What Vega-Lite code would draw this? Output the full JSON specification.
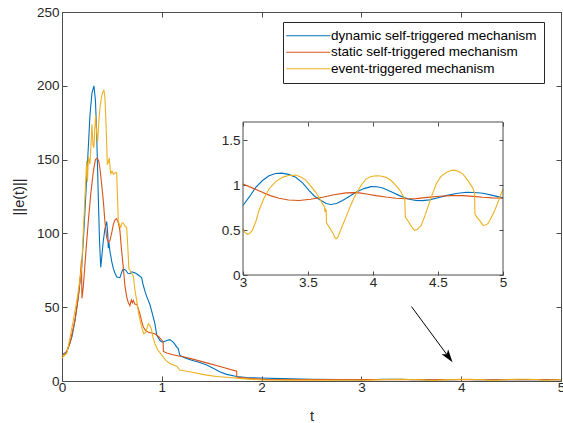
{
  "$schema": "https://vega.github.io/schema/vega-lite/v6.json",
  "width": 499,
  "height": 369,
  "autosize": {"type": "none"},
  "padding": {"left": 62, "top": 12, "right": 2, "bottom": 42},
  "config": {
    "font": "Liberation Sans",
    "view": {"stroke": "#4d4d4d", "strokeWidth": 1},
    "axis": {"grid": false, "labelFlush": false, "labelFont": "Liberation Sans", "labelFontSize": 13.5, "labelColor": "#262626", "tickColor": "#4d4d4d", "domainColor": "#4d4d4d", "titleFont": "Liberation Sans", "titleFontWeight": "normal", "titleColor": "#262626", "titleFontSize": 14.5}
  },
  "datasets": {
    "lines": [
      {"series": "dynamic self-triggered mechanism", "t": 0, "v": 17.5},
      {"series": "dynamic self-triggered mechanism", "t": 0.05, "v": 20},
      {"series": "dynamic self-triggered mechanism", "t": 0.1, "v": 30},
      {"series": "dynamic self-triggered mechanism", "t": 0.13, "v": 41},
      {"series": "dynamic self-triggered mechanism", "t": 0.165, "v": 58},
      {"series": "dynamic self-triggered mechanism", "t": 0.197, "v": 77},
      {"series": "dynamic self-triggered mechanism", "t": 0.222, "v": 105},
      {"series": "dynamic self-triggered mechanism", "t": 0.247, "v": 137},
      {"series": "dynamic self-triggered mechanism", "t": 0.265, "v": 160},
      {"series": "dynamic self-triggered mechanism", "t": 0.28, "v": 180},
      {"series": "dynamic self-triggered mechanism", "t": 0.3, "v": 195},
      {"series": "dynamic self-triggered mechanism", "t": 0.32, "v": 200},
      {"series": "dynamic self-triggered mechanism", "t": 0.335, "v": 190},
      {"series": "dynamic self-triggered mechanism", "t": 0.347, "v": 169},
      {"series": "dynamic self-triggered mechanism", "t": 0.356, "v": 145},
      {"series": "dynamic self-triggered mechanism", "t": 0.364, "v": 124},
      {"series": "dynamic self-triggered mechanism", "t": 0.376, "v": 95},
      {"series": "dynamic self-triggered mechanism", "t": 0.388, "v": 77},
      {"series": "dynamic self-triggered mechanism", "t": 0.4, "v": 85},
      {"series": "dynamic self-triggered mechanism", "t": 0.414, "v": 95},
      {"series": "dynamic self-triggered mechanism", "t": 0.43, "v": 103},
      {"series": "dynamic self-triggered mechanism", "t": 0.448, "v": 108},
      {"series": "dynamic self-triggered mechanism", "t": 0.458, "v": 100},
      {"series": "dynamic self-triggered mechanism", "t": 0.464, "v": 90},
      {"series": "dynamic self-triggered mechanism", "t": 0.47, "v": 94},
      {"series": "dynamic self-triggered mechanism", "t": 0.48, "v": 88},
      {"series": "dynamic self-triggered mechanism", "t": 0.498, "v": 81},
      {"series": "dynamic self-triggered mechanism", "t": 0.515, "v": 76},
      {"series": "dynamic self-triggered mechanism", "t": 0.531, "v": 73},
      {"series": "dynamic self-triggered mechanism", "t": 0.55, "v": 70.5},
      {"series": "dynamic self-triggered mechanism", "t": 0.58, "v": 70},
      {"series": "dynamic self-triggered mechanism", "t": 0.6, "v": 74},
      {"series": "dynamic self-triggered mechanism", "t": 0.614, "v": 76},
      {"series": "dynamic self-triggered mechanism", "t": 0.64, "v": 75},
      {"series": "dynamic self-triggered mechanism", "t": 0.66, "v": 73},
      {"series": "dynamic self-triggered mechanism", "t": 0.681, "v": 72.7},
      {"series": "dynamic self-triggered mechanism", "t": 0.7, "v": 74},
      {"series": "dynamic self-triggered mechanism", "t": 0.715, "v": 73.6},
      {"series": "dynamic self-triggered mechanism", "t": 0.74, "v": 73},
      {"series": "dynamic self-triggered mechanism", "t": 0.76, "v": 72},
      {"series": "dynamic self-triggered mechanism", "t": 0.798, "v": 70},
      {"series": "dynamic self-triggered mechanism", "t": 0.81, "v": 66},
      {"series": "dynamic self-triggered mechanism", "t": 0.83, "v": 61},
      {"series": "dynamic self-triggered mechanism", "t": 0.85, "v": 57},
      {"series": "dynamic self-triggered mechanism", "t": 0.88, "v": 52},
      {"series": "dynamic self-triggered mechanism", "t": 0.9, "v": 47},
      {"series": "dynamic self-triggered mechanism", "t": 0.93, "v": 39},
      {"series": "dynamic self-triggered mechanism", "t": 0.95, "v": 31},
      {"series": "dynamic self-triggered mechanism", "t": 0.98, "v": 27.6},
      {"series": "dynamic self-triggered mechanism", "t": 1.0, "v": 26.5},
      {"series": "dynamic self-triggered mechanism", "t": 1.015, "v": 26.5},
      {"series": "dynamic self-triggered mechanism", "t": 1.05, "v": 27.5},
      {"series": "dynamic self-triggered mechanism", "t": 1.08, "v": 28},
      {"series": "dynamic self-triggered mechanism", "t": 1.12, "v": 26},
      {"series": "dynamic self-triggered mechanism", "t": 1.15, "v": 23},
      {"series": "dynamic self-triggered mechanism", "t": 1.165, "v": 22},
      {"series": "dynamic self-triggered mechanism", "t": 1.18, "v": 17.5},
      {"series": "dynamic self-triggered mechanism", "t": 1.22, "v": 16},
      {"series": "dynamic self-triggered mechanism", "t": 1.3, "v": 14},
      {"series": "dynamic self-triggered mechanism", "t": 1.38, "v": 12.5},
      {"series": "dynamic self-triggered mechanism", "t": 1.45, "v": 10.8},
      {"series": "dynamic self-triggered mechanism", "t": 1.52, "v": 8.5},
      {"series": "dynamic self-triggered mechanism", "t": 1.58, "v": 6.3},
      {"series": "dynamic self-triggered mechanism", "t": 1.65, "v": 4.5},
      {"series": "dynamic self-triggered mechanism", "t": 1.75, "v": 3},
      {"series": "dynamic self-triggered mechanism", "t": 1.85, "v": 2.4},
      {"series": "dynamic self-triggered mechanism", "t": 1.98, "v": 2},
      {"series": "dynamic self-triggered mechanism", "t": 2.2, "v": 1.6},
      {"series": "dynamic self-triggered mechanism", "t": 2.5, "v": 1.2},
      {"series": "dynamic self-triggered mechanism", "t": 2.8, "v": 0.95},
      {"series": "dynamic self-triggered mechanism", "t": 3.0, "v": 0.772},
      {"series": "dynamic self-triggered mechanism", "t": 3.05, "v": 0.87},
      {"series": "dynamic self-triggered mechanism", "t": 3.098, "v": 0.974},
      {"series": "dynamic self-triggered mechanism", "t": 3.15, "v": 1.05},
      {"series": "dynamic self-triggered mechanism", "t": 3.2, "v": 1.103},
      {"series": "dynamic self-triggered mechanism", "t": 3.25, "v": 1.128},
      {"series": "dynamic self-triggered mechanism", "t": 3.298, "v": 1.132},
      {"series": "dynamic self-triggered mechanism", "t": 3.35, "v": 1.118},
      {"series": "dynamic self-triggered mechanism", "t": 3.406, "v": 1.085},
      {"series": "dynamic self-triggered mechanism", "t": 3.46, "v": 1.02},
      {"series": "dynamic self-triggered mechanism", "t": 3.509, "v": 0.9375},
      {"series": "dynamic self-triggered mechanism", "t": 3.55, "v": 0.875},
      {"series": "dynamic self-triggered mechanism", "t": 3.6, "v": 0.827},
      {"series": "dynamic self-triggered mechanism", "t": 3.64, "v": 0.795},
      {"series": "dynamic self-triggered mechanism", "t": 3.676, "v": 0.783},
      {"series": "dynamic self-triggered mechanism", "t": 3.72, "v": 0.795},
      {"series": "dynamic self-triggered mechanism", "t": 3.766, "v": 0.827},
      {"series": "dynamic self-triggered mechanism", "t": 3.82, "v": 0.875},
      {"series": "dynamic self-triggered mechanism", "t": 3.869, "v": 0.919},
      {"series": "dynamic self-triggered mechanism", "t": 3.93, "v": 0.96},
      {"series": "dynamic self-triggered mechanism", "t": 3.985, "v": 0.982},
      {"series": "dynamic self-triggered mechanism", "t": 4.03, "v": 0.98},
      {"series": "dynamic self-triggered mechanism", "t": 4.075, "v": 0.967},
      {"series": "dynamic self-triggered mechanism", "t": 4.14, "v": 0.925},
      {"series": "dynamic self-triggered mechanism", "t": 4.203, "v": 0.882},
      {"series": "dynamic self-triggered mechanism", "t": 4.27, "v": 0.845},
      {"series": "dynamic self-triggered mechanism", "t": 4.33, "v": 0.827},
      {"series": "dynamic self-triggered mechanism", "t": 4.38, "v": 0.826},
      {"series": "dynamic self-triggered mechanism", "t": 4.434, "v": 0.835},
      {"series": "dynamic self-triggered mechanism", "t": 4.5, "v": 0.858},
      {"series": "dynamic self-triggered mechanism", "t": 4.563, "v": 0.882},
      {"series": "dynamic self-triggered mechanism", "t": 4.64, "v": 0.905},
      {"series": "dynamic self-triggered mechanism", "t": 4.717, "v": 0.919},
      {"series": "dynamic self-triggered mechanism", "t": 4.78, "v": 0.917},
      {"series": "dynamic self-triggered mechanism", "t": 4.846, "v": 0.908},
      {"series": "dynamic self-triggered mechanism", "t": 4.92, "v": 0.885},
      {"series": "dynamic self-triggered mechanism", "t": 5.0, "v": 0.857},

      {"series": "static self-triggered mechanism", "t": 0, "v": 17},
      {"series": "static self-triggered mechanism", "t": 0.04, "v": 19},
      {"series": "static self-triggered mechanism", "t": 0.08, "v": 25.6},
      {"series": "static self-triggered mechanism", "t": 0.13, "v": 41},
      {"series": "static self-triggered mechanism", "t": 0.16, "v": 55},
      {"series": "static self-triggered mechanism", "t": 0.18, "v": 68},
      {"series": "static self-triggered mechanism", "t": 0.195, "v": 82},
      {"series": "static self-triggered mechanism", "t": 0.2, "v": 56},
      {"series": "static self-triggered mechanism", "t": 0.215, "v": 65},
      {"series": "static self-triggered mechanism", "t": 0.24, "v": 88},
      {"series": "static self-triggered mechanism", "t": 0.264, "v": 108.5},
      {"series": "static self-triggered mechanism", "t": 0.29, "v": 128},
      {"series": "static self-triggered mechanism", "t": 0.314, "v": 142},
      {"series": "static self-triggered mechanism", "t": 0.335, "v": 150},
      {"series": "static self-triggered mechanism", "t": 0.354, "v": 151},
      {"series": "static self-triggered mechanism", "t": 0.368, "v": 149},
      {"series": "static self-triggered mechanism", "t": 0.38, "v": 144},
      {"series": "static self-triggered mechanism", "t": 0.395, "v": 135},
      {"series": "static self-triggered mechanism", "t": 0.414, "v": 122},
      {"series": "static self-triggered mechanism", "t": 0.43, "v": 108},
      {"series": "static self-triggered mechanism", "t": 0.448, "v": 97},
      {"series": "static self-triggered mechanism", "t": 0.465, "v": 94},
      {"series": "static self-triggered mechanism", "t": 0.48, "v": 95},
      {"series": "static self-triggered mechanism", "t": 0.5, "v": 101},
      {"series": "static self-triggered mechanism", "t": 0.514, "v": 106},
      {"series": "static self-triggered mechanism", "t": 0.53, "v": 109},
      {"series": "static self-triggered mechanism", "t": 0.548, "v": 110},
      {"series": "static self-triggered mechanism", "t": 0.565, "v": 107},
      {"series": "static self-triggered mechanism", "t": 0.58, "v": 102},
      {"series": "static self-triggered mechanism", "t": 0.595, "v": 90},
      {"series": "static self-triggered mechanism", "t": 0.614, "v": 77},
      {"series": "static self-triggered mechanism", "t": 0.63, "v": 65},
      {"series": "static self-triggered mechanism", "t": 0.648, "v": 57},
      {"series": "static self-triggered mechanism", "t": 0.665, "v": 53},
      {"series": "static self-triggered mechanism", "t": 0.68, "v": 51},
      {"series": "static self-triggered mechanism", "t": 0.695, "v": 55},
      {"series": "static self-triggered mechanism", "t": 0.705, "v": 53},
      {"series": "static self-triggered mechanism", "t": 0.715, "v": 54.6},
      {"series": "static self-triggered mechanism", "t": 0.73, "v": 52},
      {"series": "static self-triggered mechanism", "t": 0.75, "v": 52},
      {"series": "static self-triggered mechanism", "t": 0.765, "v": 49},
      {"series": "static self-triggered mechanism", "t": 0.78, "v": 45.6},
      {"series": "static self-triggered mechanism", "t": 0.8, "v": 40},
      {"series": "static self-triggered mechanism", "t": 0.815, "v": 36.6},
      {"series": "static self-triggered mechanism", "t": 0.84, "v": 34},
      {"series": "static self-triggered mechanism", "t": 0.865, "v": 33},
      {"series": "static self-triggered mechanism", "t": 0.9, "v": 32.5},
      {"series": "static self-triggered mechanism", "t": 0.93, "v": 32},
      {"series": "static self-triggered mechanism", "t": 0.97, "v": 30},
      {"series": "static self-triggered mechanism", "t": 1.0, "v": 27.6},
      {"series": "static self-triggered mechanism", "t": 1.013, "v": 26.5},
      {"series": "static self-triggered mechanism", "t": 1.016, "v": 20},
      {"series": "static self-triggered mechanism", "t": 1.05, "v": 19},
      {"series": "static self-triggered mechanism", "t": 1.1, "v": 18},
      {"series": "static self-triggered mechanism", "t": 1.18, "v": 16.8},
      {"series": "static self-triggered mechanism", "t": 1.215, "v": 16.4},
      {"series": "static self-triggered mechanism", "t": 1.3, "v": 15},
      {"series": "static self-triggered mechanism", "t": 1.45, "v": 12.3},
      {"series": "static self-triggered mechanism", "t": 1.6, "v": 9.5},
      {"series": "static self-triggered mechanism", "t": 1.75, "v": 6.7},
      {"series": "static self-triggered mechanism", "t": 1.752, "v": 2.5},
      {"series": "static self-triggered mechanism", "t": 1.9, "v": 1.6},
      {"series": "static self-triggered mechanism", "t": 2.05, "v": 1.1},
      {"series": "static self-triggered mechanism", "t": 2.3, "v": 0.95},
      {"series": "static self-triggered mechanism", "t": 2.6, "v": 0.9},
      {"series": "static self-triggered mechanism", "t": 2.85, "v": 0.98},
      {"series": "static self-triggered mechanism", "t": 3.0, "v": 1.011},
      {"series": "static self-triggered mechanism", "t": 3.07, "v": 0.968},
      {"series": "static self-triggered mechanism", "t": 3.149, "v": 0.919},
      {"series": "static self-triggered mechanism", "t": 3.21, "v": 0.882},
      {"series": "static self-triggered mechanism", "t": 3.278, "v": 0.853},
      {"series": "static self-triggered mechanism", "t": 3.35, "v": 0.833},
      {"series": "static self-triggered mechanism", "t": 3.432, "v": 0.827},
      {"series": "static self-triggered mechanism", "t": 3.52, "v": 0.842},
      {"series": "static self-triggered mechanism", "t": 3.612, "v": 0.864},
      {"series": "static self-triggered mechanism", "t": 3.7, "v": 0.892},
      {"series": "static self-triggered mechanism", "t": 3.792, "v": 0.912},
      {"series": "static self-triggered mechanism", "t": 3.85, "v": 0.915},
      {"series": "static self-triggered mechanism", "t": 3.895, "v": 0.912},
      {"series": "static self-triggered mechanism", "t": 3.96, "v": 0.898},
      {"series": "static self-triggered mechanism", "t": 4.023, "v": 0.882},
      {"series": "static self-triggered mechanism", "t": 4.1, "v": 0.866},
      {"series": "static self-triggered mechanism", "t": 4.177, "v": 0.853},
      {"series": "static self-triggered mechanism", "t": 4.25, "v": 0.848},
      {"series": "static self-triggered mechanism", "t": 4.33, "v": 0.849},
      {"series": "static self-triggered mechanism", "t": 4.42, "v": 0.862},
      {"series": "static self-triggered mechanism", "t": 4.512, "v": 0.875},
      {"series": "static self-triggered mechanism", "t": 4.6, "v": 0.882},
      {"series": "static self-triggered mechanism", "t": 4.692, "v": 0.882},
      {"series": "static self-triggered mechanism", "t": 4.77, "v": 0.874},
      {"series": "static self-triggered mechanism", "t": 4.846, "v": 0.864},
      {"series": "static self-triggered mechanism", "t": 4.92, "v": 0.857},
      {"series": "static self-triggered mechanism", "t": 5.0, "v": 0.853},

      {"series": "event-triggered mechanism", "t": 0, "v": 15.5},
      {"series": "event-triggered mechanism", "t": 0.05, "v": 19},
      {"series": "event-triggered mechanism", "t": 0.113, "v": 41},
      {"series": "event-triggered mechanism", "t": 0.15, "v": 55},
      {"series": "event-triggered mechanism", "t": 0.197, "v": 77},
      {"series": "event-triggered mechanism", "t": 0.22, "v": 110},
      {"series": "event-triggered mechanism", "t": 0.247, "v": 149},
      {"series": "event-triggered mechanism", "t": 0.255, "v": 135},
      {"series": "event-triggered mechanism", "t": 0.265, "v": 152},
      {"series": "event-triggered mechanism", "t": 0.28, "v": 147},
      {"series": "event-triggered mechanism", "t": 0.29, "v": 160},
      {"series": "event-triggered mechanism", "t": 0.3, "v": 174},
      {"series": "event-triggered mechanism", "t": 0.31, "v": 160},
      {"series": "event-triggered mechanism", "t": 0.32, "v": 158},
      {"series": "event-triggered mechanism", "t": 0.328, "v": 170},
      {"series": "event-triggered mechanism", "t": 0.337, "v": 180},
      {"series": "event-triggered mechanism", "t": 0.345, "v": 170},
      {"series": "event-triggered mechanism", "t": 0.357, "v": 162},
      {"series": "event-triggered mechanism", "t": 0.368, "v": 175},
      {"series": "event-triggered mechanism", "t": 0.38, "v": 185},
      {"series": "event-triggered mechanism", "t": 0.395, "v": 192},
      {"series": "event-triggered mechanism", "t": 0.41, "v": 196},
      {"series": "event-triggered mechanism", "t": 0.42, "v": 197},
      {"series": "event-triggered mechanism", "t": 0.43, "v": 192},
      {"series": "event-triggered mechanism", "t": 0.44, "v": 176},
      {"series": "event-triggered mechanism", "t": 0.448, "v": 160},
      {"series": "event-triggered mechanism", "t": 0.454, "v": 147},
      {"series": "event-triggered mechanism", "t": 0.464, "v": 148},
      {"series": "event-triggered mechanism", "t": 0.474, "v": 151},
      {"series": "event-triggered mechanism", "t": 0.481, "v": 145},
      {"series": "event-triggered mechanism", "t": 0.488, "v": 140},
      {"series": "event-triggered mechanism", "t": 0.496, "v": 142},
      {"series": "event-triggered mechanism", "t": 0.504, "v": 142},
      {"series": "event-triggered mechanism", "t": 0.514, "v": 140},
      {"series": "event-triggered mechanism", "t": 0.53, "v": 141},
      {"series": "event-triggered mechanism", "t": 0.548, "v": 141},
      {"series": "event-triggered mechanism", "t": 0.556, "v": 125},
      {"series": "event-triggered mechanism", "t": 0.564, "v": 108.5},
      {"series": "event-triggered mechanism", "t": 0.575, "v": 106},
      {"series": "event-triggered mechanism", "t": 0.588, "v": 104},
      {"series": "event-triggered mechanism", "t": 0.6, "v": 107},
      {"series": "event-triggered mechanism", "t": 0.614, "v": 107},
      {"series": "event-triggered mechanism", "t": 0.63, "v": 105},
      {"series": "event-triggered mechanism", "t": 0.648, "v": 104},
      {"series": "event-triggered mechanism", "t": 0.66, "v": 90},
      {"series": "event-triggered mechanism", "t": 0.67, "v": 76},
      {"series": "event-triggered mechanism", "t": 0.69, "v": 74},
      {"series": "event-triggered mechanism", "t": 0.715, "v": 71},
      {"series": "event-triggered mechanism", "t": 0.73, "v": 62},
      {"series": "event-triggered mechanism", "t": 0.748, "v": 54.6},
      {"series": "event-triggered mechanism", "t": 0.77, "v": 45},
      {"series": "event-triggered mechanism", "t": 0.8, "v": 36},
      {"series": "event-triggered mechanism", "t": 0.82, "v": 32},
      {"series": "event-triggered mechanism", "t": 0.84, "v": 33},
      {"series": "event-triggered mechanism", "t": 0.865, "v": 38.8},
      {"series": "event-triggered mechanism", "t": 0.88, "v": 37.5},
      {"series": "event-triggered mechanism", "t": 0.895, "v": 35.5},
      {"series": "event-triggered mechanism", "t": 0.91, "v": 30},
      {"series": "event-triggered mechanism", "t": 0.93, "v": 25.4},
      {"series": "event-triggered mechanism", "t": 0.96, "v": 21},
      {"series": "event-triggered mechanism", "t": 1.0, "v": 17.5},
      {"series": "event-triggered mechanism", "t": 1.04, "v": 14},
      {"series": "event-triggered mechanism", "t": 1.08, "v": 11.9},
      {"series": "event-triggered mechanism", "t": 1.15, "v": 10},
      {"series": "event-triggered mechanism", "t": 1.18, "v": 7.4},
      {"series": "event-triggered mechanism", "t": 1.28, "v": 6.3},
      {"series": "event-triggered mechanism", "t": 1.33, "v": 5.6},
      {"series": "event-triggered mechanism", "t": 1.45, "v": 4},
      {"series": "event-triggered mechanism", "t": 1.55, "v": 3},
      {"series": "event-triggered mechanism", "t": 1.65, "v": 2.5},
      {"series": "event-triggered mechanism", "t": 1.8, "v": 1.6},
      {"series": "event-triggered mechanism", "t": 2.0, "v": 0.7},
      {"series": "event-triggered mechanism", "t": 2.3, "v": 0.6},
      {"series": "event-triggered mechanism", "t": 2.6, "v": 0.55},
      {"series": "event-triggered mechanism", "t": 2.85, "v": 0.55},
      {"series": "event-triggered mechanism", "t": 3.0, "v": 0.515},
      {"series": "event-triggered mechanism", "t": 3.015, "v": 0.47},
      {"series": "event-triggered mechanism", "t": 3.033, "v": 0.452},
      {"series": "event-triggered mechanism", "t": 3.05, "v": 0.46},
      {"series": "event-triggered mechanism", "t": 3.072, "v": 0.496},
      {"series": "event-triggered mechanism", "t": 3.1, "v": 0.6},
      {"series": "event-triggered mechanism", "t": 3.123, "v": 0.717},
      {"series": "event-triggered mechanism", "t": 3.16, "v": 0.85},
      {"series": "event-triggered mechanism", "t": 3.2, "v": 0.956},
      {"series": "event-triggered mechanism", "t": 3.25, "v": 1.035},
      {"series": "event-triggered mechanism", "t": 3.303, "v": 1.085},
      {"series": "event-triggered mechanism", "t": 3.35, "v": 1.105},
      {"series": "event-triggered mechanism", "t": 3.406, "v": 1.11},
      {"series": "event-triggered mechanism", "t": 3.45, "v": 1.085},
      {"series": "event-triggered mechanism", "t": 3.483, "v": 1.055},
      {"series": "event-triggered mechanism", "t": 3.52, "v": 0.99},
      {"series": "event-triggered mechanism", "t": 3.56, "v": 0.919},
      {"series": "event-triggered mechanism", "t": 3.59, "v": 0.85},
      {"series": "event-triggered mechanism", "t": 3.612, "v": 0.79},
      {"series": "event-triggered mechanism", "t": 3.627, "v": 0.755},
      {"series": "event-triggered mechanism", "t": 3.63, "v": 0.7},
      {"series": "event-triggered mechanism", "t": 3.635, "v": 0.73},
      {"series": "event-triggered mechanism", "t": 3.64, "v": 0.72},
      {"series": "event-triggered mechanism", "t": 3.642, "v": 0.58},
      {"series": "event-triggered mechanism", "t": 3.66, "v": 0.54},
      {"series": "event-triggered mechanism", "t": 3.69, "v": 0.47},
      {"series": "event-triggered mechanism", "t": 3.7, "v": 0.44},
      {"series": "event-triggered mechanism", "t": 3.705, "v": 0.42},
      {"series": "event-triggered mechanism", "t": 3.715, "v": 0.404},
      {"series": "event-triggered mechanism", "t": 3.73, "v": 0.42},
      {"series": "event-triggered mechanism", "t": 3.76, "v": 0.53},
      {"series": "event-triggered mechanism", "t": 3.792, "v": 0.643},
      {"series": "event-triggered mechanism", "t": 3.83, "v": 0.78},
      {"series": "event-triggered mechanism", "t": 3.869, "v": 0.9},
      {"series": "event-triggered mechanism", "t": 3.91, "v": 1.0},
      {"series": "event-triggered mechanism", "t": 3.946, "v": 1.066},
      {"series": "event-triggered mechanism", "t": 3.985, "v": 1.095},
      {"series": "event-triggered mechanism", "t": 4.023, "v": 1.103},
      {"series": "event-triggered mechanism", "t": 4.06, "v": 1.1},
      {"series": "event-triggered mechanism", "t": 4.1, "v": 1.085},
      {"series": "event-triggered mechanism", "t": 4.14, "v": 1.05},
      {"series": "event-triggered mechanism", "t": 4.177, "v": 0.993},
      {"series": "event-triggered mechanism", "t": 4.2, "v": 0.955},
      {"series": "event-triggered mechanism", "t": 4.216, "v": 0.919},
      {"series": "event-triggered mechanism", "t": 4.235, "v": 0.87},
      {"series": "event-triggered mechanism", "t": 4.242, "v": 0.85},
      {"series": "event-triggered mechanism", "t": 4.245, "v": 0.82},
      {"series": "event-triggered mechanism", "t": 4.249, "v": 0.643},
      {"series": "event-triggered mechanism", "t": 4.27, "v": 0.6},
      {"series": "event-triggered mechanism", "t": 4.295, "v": 0.54},
      {"series": "event-triggered mechanism", "t": 4.319, "v": 0.496},
      {"series": "event-triggered mechanism", "t": 4.34, "v": 0.505},
      {"series": "event-triggered mechanism", "t": 4.37, "v": 0.551},
      {"series": "event-triggered mechanism", "t": 4.395, "v": 0.64},
      {"series": "event-triggered mechanism", "t": 4.422, "v": 0.754},
      {"series": "event-triggered mechanism", "t": 4.455, "v": 0.89},
      {"series": "event-triggered mechanism", "t": 4.486, "v": 1.011},
      {"series": "event-triggered mechanism", "t": 4.52, "v": 1.09},
      {"series": "event-triggered mechanism", "t": 4.563, "v": 1.14},
      {"series": "event-triggered mechanism", "t": 4.6, "v": 1.162},
      {"series": "event-triggered mechanism", "t": 4.627, "v": 1.165},
      {"series": "event-triggered mechanism", "t": 4.66, "v": 1.15},
      {"series": "event-triggered mechanism", "t": 4.692, "v": 1.121},
      {"series": "event-triggered mechanism", "t": 4.725, "v": 1.06},
      {"series": "event-triggered mechanism", "t": 4.756, "v": 0.993},
      {"series": "event-triggered mechanism", "t": 4.77, "v": 0.96},
      {"series": "event-triggered mechanism", "t": 4.776, "v": 0.925},
      {"series": "event-triggered mechanism", "t": 4.781, "v": 0.919},
      {"series": "event-triggered mechanism", "t": 4.784, "v": 0.68},
      {"series": "event-triggered mechanism", "t": 4.8, "v": 0.64},
      {"series": "event-triggered mechanism", "t": 4.82, "v": 0.607},
      {"series": "event-triggered mechanism", "t": 4.846, "v": 0.551},
      {"series": "event-triggered mechanism", "t": 4.865, "v": 0.555},
      {"series": "event-triggered mechanism", "t": 4.884, "v": 0.57},
      {"series": "event-triggered mechanism", "t": 4.91, "v": 0.64},
      {"series": "event-triggered mechanism", "t": 4.936, "v": 0.717},
      {"series": "event-triggered mechanism", "t": 4.97, "v": 0.84},
      {"series": "event-triggered mechanism", "t": 5.0, "v": 0.956}
    ],
    "arrow": [{"t": 3.502, "v": 50.4, "t2": 3.873, "v2": 16.4}]
  },
  "layer": [
    {
      "data": {"name": "lines"},
      "mark": {"type": "line", "strokeWidth": 1.1, "clip": true},
      "encoding": {
        "x": {"field": "t", "type": "quantitative", "scale": {"domain": [0, 5], "nice": false},
              "axis": {"orient": "bottom", "values": [0, 1, 2, 3, 4, 5], "tickSize": -5, "labelPadding": 4, "domain": false, "title": "t", "titlePadding": 16}},
        "y": {"field": "v", "type": "quantitative", "scale": {"domain": [0, 250], "nice": false},
              "axis": {"orient": "left", "values": [0, 50, 100, 150, 200, 250], "tickSize": -5, "labelPadding": 8, "domain": false, "title": "||e(t)||", "titlePadding": 10}},
        "color": {"field": "series", "type": "nominal",
                  "scale": {"domain": ["dynamic self-triggered mechanism", "static self-triggered mechanism", "event-triggered mechanism"], "range": ["#0072BD", "#D95319", "#EDB120"]},
                  "legend": {"orient": "none", "legendX": 221, "legendY": 10, "title": null, "symbolType": "M-11,0H11", "symbolSize": 16, "symbolStrokeWidth": 1.1, "symbolOffset": 11.5, "labelFont": "Liberation Sans", "labelFontSize": 13.5, "labelColor": "#000000", "strokeColor": "#262626", "fillColor": "white", "padding": 7, "rowPadding": 1.5, "labelOffset": 16, "labelLimit": 400}},
        "order": {"field": "t", "type": "quantitative"}
      }
    },
    {
      "data": {"name": "arrow"},
      "layer": [
        {
          "mark": {"type": "rule", "color": "#000000", "strokeWidth": 1},
          "encoding": {
            "x": {"field": "t", "type": "quantitative"},
            "y": {"field": "v", "type": "quantitative"},
            "x2": {"field": "t2"},
            "y2": {"field": "v2"}
          }
        },
        {
          "mark": {"type": "point", "shape": "M0,-1L0.6,0.9L0,0.45L-0.6,0.9Z", "filled": true, "color": "#000000", "opacity": 1, "size": 185, "angle": 143.6},
          "encoding": {
            "x": {"field": "t2", "type": "quantitative"},
            "y": {"field": "v2", "type": "quantitative"}
          }
        }
      ],
      "encoding": {
        "x": {"field": "t", "type": "quantitative", "scale": {"domain": [0, 5], "nice": false},
              "axis": {"orient": "top", "values": [0, 1, 2, 3, 4, 5], "tickSize": -5, "labels": false, "domain": false, "title": null}},
        "y": {"field": "v", "type": "quantitative", "scale": {"domain": [0, 250], "nice": false},
              "axis": {"orient": "right", "values": [0, 50, 100, 150, 200, 250], "tickSize": -5, "labels": false, "domain": false, "title": null}}
      }
    },
    {
      "data": {"name": "lines"},
      "transform": [{"filter": "datum.t >= 3"}],
      "mark": {"type": "line", "strokeWidth": 1.1},
      "encoding": {
        "x": {"field": "t", "type": "quantitative", "scale": {"domain": [3, 5], "nice": false, "range": [181, 441]},
              "axis": {"orient": "bottom", "offset": -106, "values": [3, 3.5, 4, 4.5, 5], "format": "~g", "tickSize": -4, "labelPadding": 4, "domain": false, "title": null}},
        "y": {"field": "v", "type": "quantitative", "scale": {"domain": [0, 1.7], "nice": false, "zero": false, "range": [263, 110]},
              "axis": {"orient": "left", "offset": -181, "values": [0, 0.5, 1, 1.5], "format": "~g", "tickSize": -4, "labelPadding": 7, "domain": false, "title": null}},
        "color": {"field": "series", "type": "nominal", "legend": null},
        "order": {"field": "t", "type": "quantitative"}
      }
    },
    {
      "data": {"values": [{}]},
      "mark": {"type": "rect", "fill": null, "stroke": "#4d4d4d", "strokeWidth": 1},
      "encoding": {
        "x": {"datum": 3, "type": "quantitative", "scale": {"domain": [3, 5], "nice": false, "range": [181, 441]},
              "axis": {"orient": "top", "offset": -110, "values": [3, 3.5, 4, 4.5, 5], "tickSize": -4, "labels": false, "domain": false, "title": null}},
        "x2": {"datum": 5},
        "y": {"datum": 0, "type": "quantitative", "scale": {"domain": [0, 1.7], "nice": false, "zero": false, "range": [263, 110]},
              "axis": {"orient": "right", "offset": -58, "values": [0, 0.5, 1, 1.5], "tickSize": -4, "labels": false, "domain": false, "title": null}},
        "y2": {"datum": 1.7}
      }
    }
  ],
  "resolve": {"scale": {"x": "independent", "y": "independent"}, "axis": {"x": "independent", "y": "independent"}}
}
